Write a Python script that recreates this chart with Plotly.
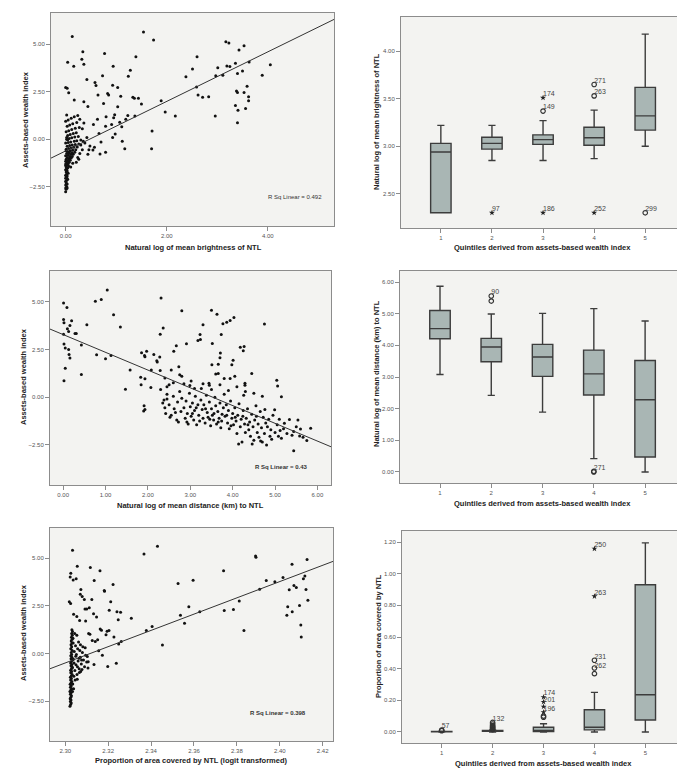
import plotly.graph_objects as go

# ---------------- Panel A: brightness vs wealth (scatter) ----------------
brightness_points = [
    (0.13, 5.40), (1.54, 5.63), (1.74, 5.21), (0.34, 4.60), (0.77, 4.51), (0.32, 4.20),
    (0.36, 3.94), (0.04, 4.04), (0.16, 3.83), (1.39, 4.34), (0.94, 3.83), (1.28, 3.62),
    (1.24, 3.31), (0.73, 3.34), (0.42, 3.14), (0.58, 2.98), (0.60, 2.82), (0.93, 2.84),
    (1.03, 2.72), (0.00, 2.72), (0.03, 2.68), (0.06, 2.44), (0.64, 2.32), (0.83, 2.40),
    (0.85, 2.33), (1.09, 2.26), (1.33, 2.21), (1.36, 2.16), (1.44, 2.16), (0.17, 2.07),
    (0.36, 1.97), (0.75, 1.88), (1.50, 1.85), (0.44, 1.72), (1.03, 1.71), (0.80, 1.18),
    (0.97, 1.29), (0.95, 1.13), (1.23, 1.25), (1.37, 1.22), (1.19, 1.05), (1.07, 0.89),
    (0.63, 1.05), (0.55, 0.78), (0.79, 0.68), (0.91, 0.78), (1.11, 0.66), (0.66, 0.31),
    (0.98, 0.28), (0.93, 0.09), (1.12, -0.10), (1.17, -0.49), (1.71, 0.44), (1.70, -0.49),
    (1.89, 2.02), (1.97, 1.43), (2.17, 1.22), (0.57, -0.42), (0.70, -0.14), (0.68, -0.77),
    (0.79, -0.68), (0.48, -0.35), (0.44, -0.78), (0.54, -0.56),
    (2.38, 3.28), (2.51, 3.69), (2.60, 4.34), (2.59, 2.75), (2.62, 2.32), (2.71, 2.21),
    (2.83, 2.23), (2.96, 1.22), (2.97, 3.33), (3.01, 3.76), (3.11, 3.36), (3.17, 5.12),
    (3.23, 5.05), (3.19, 3.85), (3.25, 3.82), (3.36, 3.99), (3.43, 4.69), (3.53, 4.91),
    (3.40, 3.45), (3.50, 3.59), (3.63, 4.06), (3.59, 2.79), (3.38, 2.53), (3.40, 2.46),
    (3.53, 2.46), (3.62, 2.23), (3.62, 2.02), (3.36, 1.78), (3.41, 1.53), (3.56, 1.62),
    (3.40, 0.87), (3.89, 3.36), (4.05, 3.92),
    (0.00, -2.75), (0.01, -2.62), (0.00, -2.55), (0.02, -2.48), (0.00, -2.40), (0.03, -2.35),
    (0.01, -2.28), (0.00, -2.20), (0.02, -2.15), (0.04, -2.10), (0.00, -2.05), (0.01, -1.98),
    (0.03, -1.92), (0.00, -1.88), (0.02, -1.82), (0.05, -1.78), (0.01, -1.72), (0.03, -1.66),
    (0.00, -1.60), (0.02, -1.55), (0.04, -1.50), (0.01, -1.45), (0.06, -1.42), (0.00, -1.38),
    (0.03, -1.33), (0.05, -1.28), (0.02, -1.24), (0.07, -1.20), (0.00, -1.15), (0.04, -1.12),
    (0.09, -1.10), (0.01, -1.05), (0.06, -1.02), (0.11, -0.98), (0.03, -0.95), (0.08, -0.92),
    (0.13, -0.90), (0.00, -0.86), (0.05, -0.83), (0.10, -0.80), (0.15, -0.78), (0.02, -0.75),
    (0.07, -0.72), (0.12, -0.70), (0.18, -0.68), (0.04, -0.64), (0.09, -0.60), (0.14, -0.58),
    (0.20, -0.55), (0.01, -0.52), (0.06, -0.48), (0.11, -0.45), (0.16, -0.42), (0.23, -0.40),
    (0.03, -0.36), (0.08, -0.33), (0.13, -0.30), (0.19, -0.27), (0.26, -0.24), (0.00, -0.20),
    (0.05, -0.17), (0.10, -0.14), (0.17, -0.10), (0.22, -0.07), (0.30, -0.04), (0.02, 0.00),
    (0.07, 0.04), (0.12, 0.08), (0.18, 0.12), (0.25, 0.15), (0.04, 0.20), (0.09, 0.25),
    (0.15, 0.30), (0.21, 0.35), (0.01, 0.40), (0.06, 0.45), (0.12, 0.52), (0.19, 0.58),
    (0.27, 0.62), (0.03, 0.68), (0.08, 0.75), (0.14, 0.82), (0.22, 0.88), (0.00, 0.95),
    (0.05, 1.02), (0.11, 1.10), (0.17, 1.18), (0.24, 1.25), (0.02, 1.28), (0.14, -1.25),
    (0.10, -1.45), (0.24, -0.95), (0.28, -0.75), (0.33, -0.55), (0.30, -0.30), (0.35, -0.10),
    (0.21, -1.20), (0.26, -1.05), (0.04, -0.02), (0.01, -1.90), (0.03, -2.55), (0.02, -2.00),
    (0.01, -1.60), (0.00, -1.30), (0.01, -0.60), (0.02, 0.10), (0.38, -0.20), (0.42, 0.10),
    (0.33, 0.55), (0.36, 0.85), (0.28, 1.05), (0.46, -0.55),
]

# ---------------- Panel C: distance vs wealth (scatter) ----------------
distance_points = [
    (0.01, 4.93), (0.09, 4.70), (0.01, 4.07), (0.02, 3.90), (0.20, 4.00), (0.16, 3.76),
    (0.10, 3.58), (0.13, 3.44), (0.28, 3.34), (0.31, 3.34), (0.01, 3.30), (0.56, 3.79),
    (0.02, 2.78), (0.05, 2.57), (0.13, 2.50), (0.14, 2.24), (0.16, 2.05), (0.43, 2.74),
    (0.05, 1.52), (0.02, 0.86), (0.43, 1.19),
    (0.76, 5.03), (0.90, 5.12), (1.04, 5.61), (1.19, 4.32), (1.35, 3.67), (0.79, 2.22),
    (1.00, 2.01), (1.13, 2.19), (1.58, 1.42), (1.47, 0.42),
    (2.31, 5.19), (2.36, 3.62), (2.29, 3.30), (2.80, 4.53), (2.67, 2.69), (2.61, 2.41),
    (2.91, 2.80), (1.85, 2.33), (1.92, 2.19), (1.93, 2.12), (1.97, 2.41), (2.14, 2.24),
    (2.22, 1.84), (2.28, 2.10), (2.29, 1.40), (2.21, 1.91), (2.08, 1.42), (1.83, 1.05),
    (1.84, 0.65), (1.93, 0.96), (2.07, 0.51), (1.91, -0.45), (1.93, -0.65), (1.90, -0.72),
    (2.55, 1.43), (2.50, 0.65), (2.73, 1.59), (2.75, 1.17),
    (3.50, 4.56), (3.63, 4.34), (3.77, 3.85), (3.86, 3.92), (3.94, 4.02), (4.03, 4.18),
    (3.73, 3.29), (3.30, 3.79), (3.23, 3.29), (3.24, 3.02), (3.18, 2.97), (3.52, 2.81),
    (3.71, 2.31), (3.70, 2.06), (4.01, 1.94), (3.98, 1.70), (3.51, 1.70), (3.66, 1.73),
    (3.60, 1.21), (3.66, 1.24), (3.80, 0.98), (3.94, 0.98), (4.05, 1.10), (4.18, 2.62),
    (4.27, 2.66), (4.25, 2.43), (4.45, 1.24), (4.29, 0.73), (4.29, 0.63), (4.75, 3.83),
    (5.04, 0.89), (5.06, 0.58), (5.15, 0.02), (3.44, 0.73), (3.45, 0.63), (2.99, 0.61),
    (3.26, 0.45),
    (2.35, -0.30), (2.40, -0.55), (2.42, -0.85), (2.45, -0.10), (2.50, -0.40), (2.55, -0.95),
    (2.60, 0.05), (2.62, -0.60), (2.68, -1.20), (2.70, -0.25), (2.72, -1.30), (2.75, 0.30),
    (2.78, -0.75), (2.80, -0.05), (2.45, 0.15), (2.38, -0.15), (2.52, -1.05), (2.65, -0.80),
    (2.85, -0.55), (2.88, -1.10), (2.90, -0.20), (2.93, -0.85), (2.95, -1.40), (2.98, 0.20),
    (3.00, -0.50), (3.02, -1.00), (3.05, -0.30), (3.08, -1.20), (3.10, -0.70), (3.12, 0.05),
    (3.15, -1.45), (3.18, -0.40), (3.20, -0.95), (3.22, -1.25), (3.25, -0.15), (3.28, -0.65),
    (3.30, -1.10), (2.92, -1.30), (3.05, -0.85), (3.14, -0.55),
    (3.32, -0.40), (3.35, -1.35), (3.38, 0.10), (3.40, -0.80), (3.42, -1.05), (3.45, -0.25),
    (3.48, -1.50), (3.50, -0.60), (3.52, -0.95), (3.55, -1.20), (3.58, 0.00), (3.60, -0.45),
    (3.62, -1.40), (3.65, -0.75), (3.68, -1.10), (3.70, -0.30), (3.72, -1.60), (3.75, -0.90),
    (3.78, -0.55), (3.36, -0.60), (3.46, -1.15), (3.56, -0.85), (3.66, -1.30), (3.74, -1.25),
    (3.80, 0.15),
    (3.82, -1.00), (3.85, -0.40), (3.88, -1.35), (3.90, -0.70), (3.92, -1.65), (3.95, -0.20),
    (3.98, -1.10), (4.00, -0.85), (4.02, -1.45), (4.05, -0.55), (4.08, -1.25), (4.10, -1.90),
    (4.12, -0.95), (4.15, -0.35), (4.18, -1.55), (4.20, -1.15), (4.22, -2.35), (4.25, -0.70),
    (4.28, -1.40), (4.30, -1.85), (3.86, -0.95), (3.96, -1.50), (4.06, -1.05), (4.14, -2.45),
    (4.24, -1.00), (4.26, 0.10),
    (4.32, -1.10), (4.35, -0.60), (4.38, -1.70), (4.40, -1.30), (4.42, -2.05), (4.45, -0.90),
    (4.48, -1.55), (4.50, -2.25), (4.52, -1.20), (4.55, -0.45), (4.58, -1.85), (4.60, -1.40),
    (4.62, -2.10), (4.65, -0.75), (4.68, -1.60), (4.70, -2.35), (4.72, -1.05), (4.75, -1.90),
    (4.78, -1.35), (4.80, -2.50), (4.36, -1.45), (4.46, -2.45), (4.56, -1.00), (4.66, -2.30),
    (4.76, -0.65),
    (4.82, -1.55), (4.85, -1.15), (4.88, -2.05), (4.90, -1.70), (4.95, -0.95), (5.00, -1.85),
    (5.05, -1.45), (5.08, -2.05), (5.10, -1.15), (5.15, -2.15), (5.20, -1.65), (5.22, -1.36),
    (5.28, -1.90), (5.34, -1.17), (5.40, -2.00), (5.44, -1.80), (5.44, -2.81), (5.50, -1.55),
    (5.54, -1.19), (5.58, -2.03), (5.60, -1.66), (5.66, -2.10), (5.75, -2.27), (5.84, -1.63),
    (4.99, -0.66), (4.92, -2.20), (5.12, -1.75),
    (2.45, 0.55), (2.60, 0.75), (2.85, 0.70), (3.02, 0.85), (3.10, 0.45), (3.30, 0.70),
    (3.50, 0.40), (3.70, 0.65), (3.90, 0.35), (4.10, 0.55), (4.30, 0.30), (4.50, 0.20),
    (4.70, 0.05), (2.30, 0.40), (2.40, 1.00), (2.80, 1.10),
]

# ---------------- Panel E: area proportion (logit) vs wealth (scatter) ----------------
area_points = [
    (2.3034, 5.42), (2.3430, 5.63), (2.3367, 5.23), (2.3056, 4.58), (2.3117, 4.51),
    (2.3162, 4.35), (2.3026, 4.21), (2.3023, 4.02), (2.3037, 3.86), (2.3051, 3.93),
    (2.3135, 3.83), (2.3223, 3.62), (2.3073, 3.36), (2.3070, 3.11), (2.3079, 2.99),
    (2.3089, 2.83), (2.3124, 2.83), (2.3182, 3.30), (2.3183, 3.27), (2.3019, 2.71),
    (2.3025, 2.62), (2.3212, 2.71), (2.3092, 2.33), (2.3100, 2.33), (2.3112, 2.40),
    (2.3205, 2.27), (2.3241, 2.19), (2.3258, 2.17), (2.3132, 2.08), (2.3039, 2.06),
    (2.3054, 1.94), (2.3146, 1.91), (2.3308, 1.85), (2.3067, 1.73), (2.3095, 1.70),
    (2.3247, 1.77), (2.3163, 1.29), (2.3169, 1.22), (2.3195, 1.17), (2.3204, 1.21),
    (2.3109, 1.05), (2.3115, 1.01), (2.3190, 0.98), (2.3151, 0.72), (2.3126, 0.68),
    (2.3140, 0.63), (2.3227, 0.87), (2.3261, 0.63), (2.3249, 0.49), (2.3156, 0.14),
    (2.3173, -0.10), (2.3093, 0.30), (2.3103, -0.16), (2.3107, -0.44), (2.3134, -0.58),
    (2.3198, -0.68), (2.3238, -0.51), (2.3106, -0.77),
    (2.3378, 1.21), (2.3405, 1.42), (2.3453, 0.44), (2.3526, 3.67), (2.3537, 2.01),
    (2.3556, 1.59), (2.3576, 2.45), (2.3596, 3.85), (2.3627, 2.19), (2.3738, 4.35),
    (2.3741, 2.26), (2.3784, 2.31), (2.3811, 2.76), (2.3833, 1.21), (2.3887, 5.12),
    (2.3889, 5.05), (2.3906, 3.37), (2.3937, 3.83), (2.3977, 3.76), (2.4015, 3.99),
    (2.4057, 4.69), (2.4044, 3.34), (2.4066, 3.57), (2.4077, 3.46), (2.4110, 3.92),
    (2.4117, 4.07), (2.4127, 4.93), (2.4122, 3.36), (2.4131, 2.80), (2.4037, 2.45),
    (2.4092, 2.52), (2.4058, 2.19), (2.4033, 2.01), (2.4098, 1.50), (2.4100, 0.87),
    (2.3022, -2.78), (2.3025, -2.68), (2.3028, -2.60), (2.3024, -2.52), (2.3027, -2.45),
    (2.3023, -2.38), (2.3026, -2.30), (2.3029, -2.22), (2.3024, -2.15), (2.3027, -2.08),
    (2.3022, -2.00), (2.3026, -1.92), (2.3030, -1.85), (2.3024, -1.78), (2.3028, -1.70),
    (2.3023, -1.62), (2.3027, -1.55), (2.3031, -1.48), (2.3025, -1.40), (2.3029, -1.32),
    (2.3024, -1.25), (2.3028, -1.18), (2.3032, -1.10), (2.3026, -1.02), (2.3030, -0.95),
    (2.3025, -0.88), (2.3029, -0.80), (2.3033, -0.72), (2.3027, -0.65), (2.3031, -0.58),
    (2.3025, -0.50), (2.3029, -0.42), (2.3034, -0.35), (2.3027, -0.28), (2.3031, -0.20),
    (2.3026, -0.12), (2.3030, -0.05), (2.3028, 0.05), (2.3032, 0.15), (2.3026, 0.25),
    (2.3030, 0.35), (2.3027, 0.45), (2.3031, 0.55), (2.3028, 0.65), (2.3032, 0.75),
    (2.3029, 0.85), (2.3033, 0.95), (2.3030, 1.05), (2.3034, 1.15), (2.3031, 1.25),
    (2.3035, -1.60), (2.3040, -1.20), (2.3045, -0.90), (2.3050, -0.60), (2.3055, -1.10),
    (2.3060, -0.40), (2.3065, -0.80), (2.3070, -0.20), (2.3075, -0.55), (2.3080, 0.05),
    (2.3085, -0.35), (2.3090, -0.70), (2.3038, -0.30), (2.3042, 0.10), (2.3048, 0.40),
    (2.3052, -0.05), (2.3058, 0.25), (2.3062, 0.60), (2.3068, 0.15), (2.3072, -0.95),
    (2.3036, 0.80), (2.3044, 1.05), (2.3054, 0.95), (2.3046, -1.40), (2.3056, -1.35),
    (2.3066, -1.00), (2.3034, -2.00), (2.3039, -1.85), (2.3095, -0.10), (2.3100, -0.45),
    (2.3078, -0.85), (2.3082, 0.35), (2.3033, -0.75), (2.3037, 0.55), (2.3041, -0.50),
    (2.3049, -0.15), (2.3057, -0.70), (2.3064, -0.25), (2.3071, 0.45), (2.3076, -0.35),
]

# linear fits (intercept at x0, slope) and R squared labels
fit_brightness = (-0.61, 1.30, 0.0)      # y = a + b*(x - x0)
fit_distance = (3.28, -0.93, 0.0)
fit_area = (-0.50, 42.76, 2.30)
r2_labels = ["R Sq Linear = 0.492", "R Sq Linear = 0.43", "R Sq Linear = 0.398"]

# ---------------- Box plots (quintiles 1..5) ----------------
quintiles = [1, 2, 3, 4, 5]
quintile_labels = ["1", "2", "3", "4", "5"]

# Panel B: natural log of mean brightness
b_q1 = [2.30, 2.97, 3.02, 3.01, 3.17]
b_med = [2.94, 3.03, 3.07, 3.09, 3.32]
b_q3 = [3.03, 3.095, 3.12, 3.20, 3.62]
b_lo = [2.30, 2.85, 2.85, 2.87, 3.00]
b_hi = [3.22, 3.22, 3.27, 3.38, 4.18]
b_circ_x = [3, 4, 4, 5]
b_circ_y = [3.37, 3.53, 3.65, 2.30]
b_star_x = [2, 3, 3, 4]
b_star_y = [2.30, 3.51, 2.30, 2.30]
b_lab_x = [2, 3, 3, 3, 4, 4, 4, 5]
b_lab_y = [2.30, 3.51, 3.37, 2.30, 3.65, 3.53, 2.30, 2.30]
b_lab_t = ["97", "174", "149", "186", "271", "263", "252", "299"]

# Panel D: natural log of mean distance (km)
d_q1 = [4.21, 3.48, 3.02, 2.43, 0.47]
d_med = [4.53, 3.95, 3.63, 3.10, 2.28]
d_q3 = [5.10, 4.22, 4.03, 3.85, 3.52]
d_lo = [3.08, 2.42, 1.89, 0.42, 0.00]
d_hi = [5.87, 4.99, 5.01, 5.16, 4.77]
d_circ_x = [2, 2, 4, 4]
d_circ_y = [5.56, 5.40, 0.00, 0.02]
d_lab_x = [2, 4]
d_lab_y = [5.56, 0.00]
d_lab_t = ["90", "271"]

# Panel F: proportion of area covered by NTL
a_q1 = [0.001, 0.004, 0.003, 0.013, 0.075]
a_med = [0.002, 0.007, 0.010, 0.030, 0.235]
a_q3 = [0.003, 0.010, 0.030, 0.140, 0.930]
a_lo = [0.000, 0.000, 0.000, 0.000, 0.000]
a_hi = [0.005, 0.012, 0.052, 0.250, 1.195]
a_circ_x = [1, 1, 2, 2, 2, 2, 2, 2, 2, 2, 3, 3, 4, 4, 4]
a_circ_y = [0.008, 0.012, 0.015, 0.020, 0.025, 0.030, 0.035, 0.040, 0.050, 0.060,
            0.093, 0.100, 0.368, 0.404, 0.453]
a_star_x = [3, 3, 3, 3, 4, 4]
a_star_y = [0.125, 0.160, 0.190, 0.220, 0.857, 1.158]
a_lab_x = [1, 2, 3, 3, 3, 4, 4, 4, 4]
a_lab_y = [0.012, 0.060, 0.220, 0.180, 0.120, 1.158, 0.857, 0.453, 0.395]
a_lab_t = ["57", "132", "174", "201", "196", "250", "263", "231", "262"]

# ---------------- Titles ----------------
x_titles = [
    "Natural log of mean brightness of NTL",
    "Quintiles derived from assets-based wealth index",
    "Natural log of mean distance (km) to NTL",
    "Quintiles derived from assets-based wealth index",
    "Proportion of area covered by NTL (logit transformed)",
    "Quintiles derived from assets-based wealth index",
]
y_titles = [
    "Assets-based wealth index",
    "Natural log of mean brightness of NTL",
    "Assets-based wealth index",
    "Natural log of mean distance (km) to NTL",
    "Assets-based wealth index",
    "Proportion of area covered by NTL",
]

W, H = 685, 768
FONT = "Arial, Liberation Sans, sans-serif"

def px_x(p):
    return p / W

def px_y(p):
    return 1 - p / H

# panel frames in pixels: (left, top, right, bottom)
frames = [
    (43, 5, 326, 218),
    (393, 9, 673, 220),
    (42, 263, 323, 477),
    (392, 263, 673, 475),
    (42, 520, 325, 733),
    (394, 523, 673, 735),
]

fig = go.Figure()

def unzip(pts):
    return [p[0] for p in pts], [p[1] for p in pts]

scatter_sets = [
    (brightness_points, fit_brightness, (-0.29, 5.31), 1),
    (distance_points, fit_distance, (-0.31, 6.32), 3),
    (area_points, fit_area, (2.2929, 2.4248), 5),
]
for pts, fit, xr, idx in scatter_sets:
    xs, ys = unzip(pts)
    ax = "" if idx == 1 else str(idx)
    fig.add_trace(go.Scatter(
        x=xs, y=ys, mode="markers", xaxis="x" + ax, yaxis="y" + ax,
        marker=dict(size=3, color="#111111", symbol="circle"),
        showlegend=False, hoverinfo="x+y"))
    a, b, x0 = fit
    lx = [xr[0], xr[1]]
    ly = [a + b * (v - x0) for v in lx]
    fig.add_trace(go.Scatter(
        x=lx, y=ly, mode="lines", xaxis="x" + ax, yaxis="y" + ax,
        line=dict(color="#333333", width=1), showlegend=False, hoverinfo="skip"))

BOX_FILL = "#a9b6b4"
BOX_LINE = "#3c3c3c"

box_sets = [
    (2, b_q1, b_med, b_q3, b_lo, b_hi, b_circ_x, b_circ_y, b_star_x, b_star_y, b_lab_x, b_lab_y, b_lab_t),
    (4, d_q1, d_med, d_q3, d_lo, d_hi, d_circ_x, d_circ_y, [], [], d_lab_x, d_lab_y, d_lab_t),
    (6, a_q1, a_med, a_q3, a_lo, a_hi, a_circ_x, a_circ_y, a_star_x, a_star_y, a_lab_x, a_lab_y, a_lab_t),
]
for (idx, q1, med, q3, lo, hi, cx, cy, sx, sy, lx, ly, lt) in box_sets:
    ax = str(idx)
    fig.add_trace(go.Box(
        x=quintiles, q1=q1, median=med, q3=q3, lowerfence=lo, upperfence=hi,
        xaxis="x" + ax, yaxis="y" + ax, fillcolor=BOX_FILL,
        line=dict(color=BOX_LINE, width=1.4), width=0.4, whiskerwidth=0.35,
        boxpoints=False, showlegend=False))
    if cx:
        fig.add_trace(go.Scatter(
            x=cx, y=cy, mode="markers", xaxis="x" + ax, yaxis="y" + ax,
            marker=dict(symbol="circle-open", size=4.5, color="#333333", line=dict(width=1.2)),
            showlegend=False))
    if sx:
        fig.add_trace(go.Scatter(
            x=sx, y=sy, mode="markers", xaxis="x" + ax, yaxis="y" + ax,
            marker=dict(symbol="star", size=4.5, color="#222222", line=dict(width=0)),
            showlegend=False))
    fig.add_trace(go.Scatter(
        x=lx, y=ly, mode="text", text=lt, textposition="top right",
        xaxis="x" + ax, yaxis="y" + ax,
        textfont=dict(size=7, color="#444444", family=FONT),
        showlegend=False, hoverinfo="skip"))

axis_common = dict(
    showline=True, mirror=True, linecolor="#8c8c8c", linewidth=1,
    ticks="outside", ticklen=4, tickcolor="#8c8c8c", tickwidth=1,
    tickfont=dict(size=6, color="#555555", family=FONT),
    showgrid=False, zeroline=False,
)

y_scatter_ticks = [-2.5, 0, 2.5, 5]
axes_spec = {
    1: dict(xr=[-0.29, 5.31], xt=[0, 2, 4], xf=".2f", yr=[-4.55, 6.63], yt=y_scatter_ticks, yf=".2f"),
    2: dict(xr=[0.22, 5.7], xt=quintiles, xf=None, yr=[2.14, 4.36], yt=[2.5, 3.0, 3.5, 4.0], yf=".2f"),
    3: dict(xr=[-0.31, 6.32], xt=[0, 1, 2, 3, 4, 5, 6], xf=".2f", yr=[-4.6, 6.61], yt=y_scatter_ticks, yf=".2f"),
    4: dict(xr=[0.22, 5.7], xt=quintiles, xf=None, yr=[-0.35, 6.35], yt=[0, 1, 2, 3, 4, 5, 6], yf=".2f"),
    5: dict(xr=[2.2929, 2.4248], xt=[2.30, 2.32, 2.34, 2.36, 2.38, 2.40, 2.42], xf=".2f",
            yr=[-4.6, 6.59], yt=y_scatter_ticks, yf=".2f"),
    6: dict(xr=[0.22, 5.7], xt=quintiles, xf=None, yr=[-0.07, 1.27], yt=[0, 0.2, 0.4, 0.6, 0.8, 1.0, 1.2], yf=".2f"),
}

layout_axes = {}
for idx, spec in axes_spec.items():
    l, t, r, b = frames[idx - 1]
    ax = "" if idx == 1 else str(idx)
    xa = dict(axis_common, domain=[px_x(l), px_x(r)], range=spec["xr"], tickvals=spec["xt"],
              anchor="y" + ax)
    if spec["xf"]:
        xa["tickformat"] = spec["xf"]
    else:
        xa["ticktext"] = quintile_labels
    ya = dict(axis_common, domain=[px_y(b), px_y(t)], range=spec["yr"], tickvals=spec["yt"],
              tickformat=spec["yf"], anchor="x" + ax)
    layout_axes["xaxis" + ax] = xa
    layout_axes["yaxis" + ax] = ya

annotations = []
x_title_pos = [(185, 239), (534, 239), (182, 497), (534, 495), (183, 752), (535, 755)]
y_title_pos = [(17, 112), (368, 114), (15, 369), (368, 366), (15, 625), (370, 628)]
for i in range(6):
    annotations.append(dict(
        text="<b>%s</b>" % x_titles[i], x=px_x(x_title_pos[i][0]), y=px_y(x_title_pos[i][1]),
        xref="paper", yref="paper", showarrow=False, xanchor="center", yanchor="middle",
        font=dict(size=7.5, color="#222222", family=FONT)))
    annotations.append(dict(
        text="<b>%s</b>" % y_titles[i], x=px_x(y_title_pos[i][0]), y=px_y(y_title_pos[i][1]),
        xref="paper", yref="paper", showarrow=False, xanchor="center", yanchor="middle",
        textangle=-90, font=dict(size=7.5, color="#222222", family=FONT)))

r2_pos = [(287, 189, False), (273, 459, True), (270, 705, True)]
for (cx, cy, bold), txt in zip(r2_pos, r2_labels):
    annotations.append(dict(
        text=("<b>%s</b>" % txt) if bold else txt, x=px_x(cx), y=px_y(cy),
        xref="paper", yref="paper", showarrow=False, xanchor="center", yanchor="middle",
        font=dict(size=6, color="#333333", family=FONT)))

fig.update_layout(
    width=W, height=H,
    margin=dict(l=0, r=0, t=0, b=0),
    paper_bgcolor="white", plot_bgcolor="#f3f3f1",
    font=dict(family=FONT),
    annotations=annotations,
    **layout_axes,
)

fig.write_html("out.html")
